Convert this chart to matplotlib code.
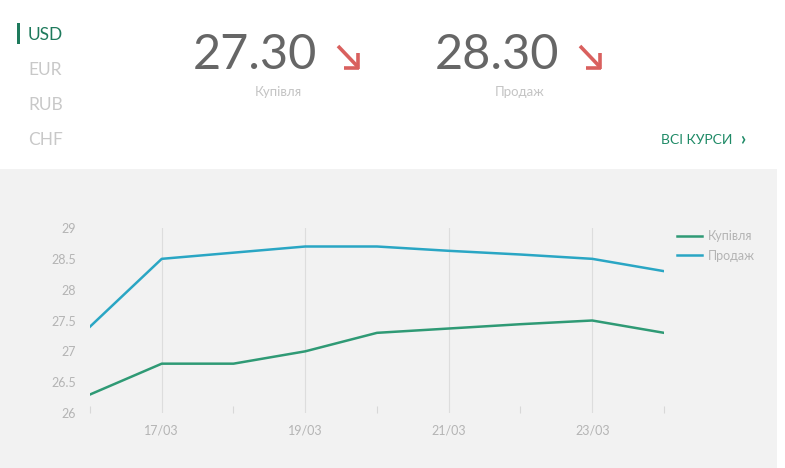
import matplotlib
matplotlib.use('Agg')
import matplotlib.pyplot as plt
from matplotlib.patches import Rectangle
from matplotlib.lines import Line2D
from matplotlib.ticker import MultipleLocator, FixedLocator

plt.rcParams['font.family'] = ['Lato', 'Open Sans', 'DejaVu Sans']

# data
dates = ['16/03', '17/03', '18/03', '19/03', '20/03', '21/03', '22/03', '23/03', '24/03']
buy = [26.3, 26.8, 26.8, 27.0, 27.3, 27.37, 27.44, 27.5, 27.3]
sell = [27.4, 28.5, 28.6, 28.7, 28.7, 28.63, 28.57, 28.5, 28.3]
currencies = ['USD', 'EUR', 'RUB', 'CHF']
buy_now = '27.30'
sell_now = '28.30'
buy_label = 'Купівля'
sell_label = 'Продаж'

W, H = 785, 468
GREEN = '#2f9a75'
BLUE = '#2aa6c4'
GREY_TXT = '#b4b4b4'
RED = '#d9605e'

fig = plt.figure(figsize=(W / 100, H / 100), dpi=100)
fig.patch.set_facecolor('white')


def px(x, y):
    return x / W, 1 - y / H


def seg(x1, y1, x2, y2, **kw):
    fig.add_artist(Line2D([x1 / W, x2 / W], [1 - y1 / H, 1 - y2 / H],
                          transform=fig.transFigure, **kw))


# grey panel behind the chart
fig.patches.append(Rectangle(px(0, H), 777 / W, (H - 169) / H,
                             transform=fig.transFigure, facecolor='#f2f2f2',
                             edgecolor='none', zorder=-5))

# currency menu
fig.patches.append(Rectangle(px(17, 44), 2.5 / W, 21 / H, transform=fig.transFigure,
                             facecolor='#1e7a5c', edgecolor='none'))
for i, c in enumerate(currencies):
    col = '#1e7a5c' if i == 0 else '#c8c8c8'
    fig.text(*px(28, 35 + 35 * i), c, fontsize=12.5, color=col, va='center', ha='left')

# current rates
for x0, val, lab in [(255, buy_now, buy_label), (497, sell_now, sell_label)]:
    fig.text(*px(x0, 55), val, fontsize=35, color='#666666', va='center', ha='center')
    fig.text(*px(x0 + 23, 92), lab, fontsize=9.5, color='#c4c4c4', va='center', ha='center')
    a = x0 + 83
    seg(a, 46, a + 20, 67, color=RED, lw=2.6, solid_capstyle='butt')
    seg(a + 20, 53, a + 20, 69, color=RED, lw=2.6, solid_capstyle='butt')
    seg(a + 6, 68, a + 21, 68, color=RED, lw=2.6, solid_capstyle='butt')

fig.text(*px(661, 140), 'ВСІ КУРСИ', fontsize=10, color='#1e8a66', va='center', ha='left')
fig.text(*px(740, 139), '›', fontsize=13, color='#1e8a66', va='center', ha='left',
         fontweight='bold')

# chart
ax = fig.add_axes([90 / W, 1 - 413 / H, (664 - 90) / W, (413 - 228) / H])
ax.set_zorder(5)
ax.set_facecolor('none')
xs = list(range(len(dates)))
ax.plot(xs, buy, color=GREEN, lw=1.8, label=buy_label)
ax.plot(xs, sell, color=BLUE, lw=1.8, label=sell_label)
ax.set_xlim(0, len(dates) - 1)
ax.set_ylim(26, 29)
ax.yaxis.set_major_locator(MultipleLocator(0.5))
ax.set_yticks(ax.get_yticks())
ax.set_yticklabels([f'{v:g}' for v in ax.get_yticks()])
ax.set_ylim(26, 29)
ax.xaxis.set_major_locator(FixedLocator(xs[1::2]))
ax.set_xticklabels(dates[1::2])
ax.xaxis.set_minor_locator(FixedLocator(xs[0::2]))
ax.grid(axis='x', which='major', color='#dddddd', lw=0.8)
for s in ax.spines.values():
    s.set_visible(False)
ax.tick_params(axis='y', length=0, pad=10, labelsize=9, labelcolor=GREY_TXT)
ax.tick_params(axis='x', which='major', length=0, pad=8, labelsize=9, labelcolor=GREY_TXT)
ax.tick_params(axis='x', which='minor', length=5, width=0.8, color='#d8d8d8', direction='in')
leg = ax.legend(loc='upper left', bbox_to_anchor=((672 - 90) / (664 - 90), 1.015),
                frameon=False, fontsize=9, labelcolor=GREY_TXT, handlelength=2.0,
                handletextpad=0.5, borderaxespad=0, labelspacing=0.6)

fig.savefig('out.png', dpi=100, facecolor='white')
